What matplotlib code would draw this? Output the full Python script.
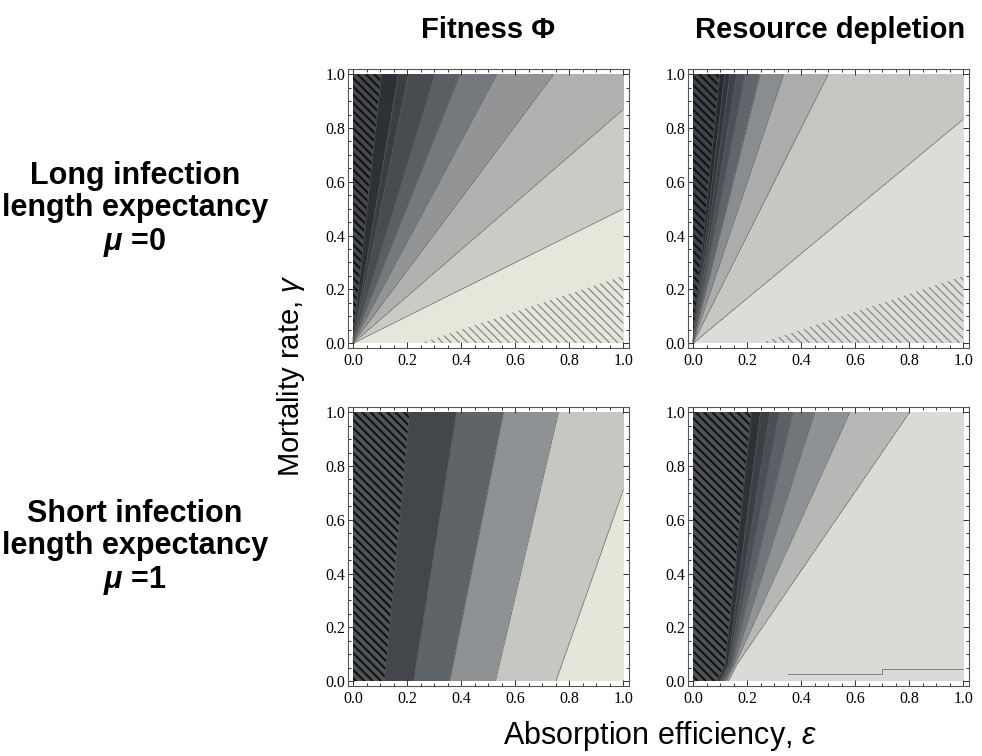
import numpy as np
import matplotlib.pyplot as plt
from matplotlib.ticker import MultipleLocator, FormatStrFormatter

plt.rcParams['font.family'] = ['Liberation Sans', 'DejaVu Sans']
plt.rcParams['mathtext.fontset'] = 'custom'
plt.rcParams['mathtext.rm'] = 'Liberation Sans'
plt.rcParams['mathtext.it'] = 'Liberation Sans:italic'
plt.rcParams['mathtext.bfit'] = 'Liberation Sans:italic:bold'

# contour lines: epsilon where each line sits at the gamma knots
knots_lin = [0.0, 1.0]
knots_knee = [0.0, 0.06, 1.0]

fit_mu0 = [[0, 0.106], [0, 0.168], [0, 0.205], [0, 0.304], [0, 0.396],
           [0, 0.532], [0, 0.742], [0, 1.15], [0, 2.0]]
dep_mu0 = [[0, 0.10], [0, 0.118], [0, 0.137], [0, 0.162], [0, 0.193],
           [0, 0.248], [0, 0.335], [0, 0.50], [0, 1.20]]
fit_mu1 = [[0.118, 0.211], [0.225, 0.384], [0.358, 0.557], [0.527, 0.76],
           [0.75, 1.10]]
dep_mu1 = [[0.09, 0.12, 0.217], [0.10, 0.13, 0.25], [0.105, 0.135, 0.285],
           [0.11, 0.14, 0.32], [0.115, 0.145, 0.37], [0.12, 0.15, 0.45],
           [0.125, 0.155, 0.58], [0.13, 0.16, 0.80]]
# lower-right hatched zone of the mu=0 panels
hatch_mu0 = [[0.25, 3.25]]
# small stepped contour at the bottom of the last panel
step_eps = [0.35, 0.70, 0.70, 1.0]
step_gam = [0.025, 0.025, 0.045, 0.045]

fit_mu0_cols = ['#45484c', '#2d3034', '#3a3d42', '#484c51', '#5b5f64',
                '#75787c', '#939495', '#b1b2af', '#cbcbc6', '#e6e6da']
dep_mu0_cols = ['#3f4349', '#262a30', '#30353b', '#3d4248', '#4c5157',
                '#60656a', '#8a8d8f', '#abacab', '#c6c6c2', '#dedcd8']
fit_mu1_cols = ['#505357', '#43474c', '#5f6469', '#8e9294', '#c6c7c3',
                '#e5e6d9']
dep_mu1_cols = ['#4e5257', '#2e3237', '#3b4045', '#4a4f55', '#5b6066',
                '#72767a', '#8f9294', '#b7b8b5', '#dcdad6']

ticks = [0.0, 0.2, 0.4, 0.6, 0.8, 1.0]


def band_field(knots, bounds, n=401):
    eps = np.linspace(0, 1, n)
    gam = np.linspace(0, 1, n)
    E, G = np.meshgrid(eps, gam)
    F = np.zeros_like(E)
    for j, g in enumerate(gam):
        pos = np.array([np.interp(g, knots, b) for b in bounds])
        pos = pos + np.arange(len(pos)) * 1e-6
        xp = np.concatenate([[-1.0], pos, [10.0]])
        F[j] = np.interp(eps, xp, np.arange(len(xp)))
    return E, G, F


def panel(ax, knots, bounds, cols, light_hatch=False):
    E, G, F = band_field(knots, bounds)
    nb = len(bounds)
    ax.contourf(E, G, F, levels=np.arange(nb + 2), colors=cols)
    with plt.rc_context({'hatch.color': '#111111', 'hatch.linewidth': 1.5}):
        ax.contourf(E, G, F, levels=[0, 1], colors='none',
                    hatches=['\\\\\\\\'])
    ax.contour(E, G, F, levels=np.arange(1, nb + 1), colors='#5a5a5a',
               linewidths=0.6, alpha=0.8)
    if light_hatch:
        E2, G2, H = band_field(knots_lin, hatch_mu0)
        with plt.rc_context({'hatch.color': '#8a8a86', 'hatch.linewidth': 0.9}):
            ax.contourf(E2, G2, H, levels=[1, 2], colors='none',
                        hatches=['\\\\\\\\'])
    ax.set_xlim(-0.02, 1.02)
    ax.set_ylim(-0.02, 1.02)
    ax.xaxis.set_minor_locator(MultipleLocator(0.05))
    ax.yaxis.set_minor_locator(MultipleLocator(0.05))
    ax.set_xticks(ticks)
    ax.set_yticks(ticks)
    ax.xaxis.set_major_formatter(FormatStrFormatter('%.1f'))
    ax.yaxis.set_major_formatter(FormatStrFormatter('%.1f'))
    ax.tick_params(which='both', direction='in', top=True, right=True,
                   color='#333333', width=0.7)
    ax.tick_params(which='major', length=4)
    ax.tick_params(which='minor', length=2)
    ax.tick_params(axis='x', pad=3)
    ax.tick_params(axis='y', pad=1.5)
    for lab in ax.get_xticklabels() + ax.get_yticklabels():
        lab.set_fontfamily('Liberation Serif')
        lab.set_fontsize(11.5)
    for s in ax.spines.values():
        s.set_color('#555555')
        s.set_linewidth(0.8)


fig = plt.figure(figsize=(9.82, 7.56), dpi=100)
w, h = 0.2862, 0.3696
ax1 = fig.add_axes([0.354, 0.5392, w, h])
ax2 = fig.add_axes([0.7002, 0.5392, w, h])
ax3 = fig.add_axes([0.354, 0.0921, w, h])
ax4 = fig.add_axes([0.7002, 0.0921, w, h])

panel(ax1, knots_lin, fit_mu0, fit_mu0_cols, light_hatch=True)
panel(ax2, knots_lin, dep_mu0, dep_mu0_cols, light_hatch=True)
panel(ax3, knots_lin, fit_mu1, fit_mu1_cols)
panel(ax4, knots_knee, dep_mu1, dep_mu1_cols)
ax4.plot(step_eps, step_gam, color='#5a5a5a', lw=0.6, alpha=0.8)

fig.text(488 / 982, 1 - 30 / 756, 'Fitness \u03a6', ha='center', va='center',
         fontsize=21, fontweight='bold')
fig.text(830 / 982, 1 - 30 / 756, 'Resource depletion', ha='center',
         va='center', fontsize=21, fontweight='bold')

fig.text(135 / 982, 1 - 210 / 756,
         'Long infection\nlength expectancy\n$\\mathbfit{\\mu}$ =0',
         ha='center', va='center', fontsize=22, fontweight='bold',
         linespacing=1.1)
fig.text(135 / 982, 1 - 548 / 756,
         'Short infection\nlength expectancy\n$\\mathbfit{\\mu}$ =1',
         ha='center', va='center', fontsize=22, fontweight='bold',
         linespacing=1.1)

fig.text(291 / 982, 1 - 376 / 756, 'Mortality rate, $\\gamma$', rotation=90,
         ha='center', va='center', fontsize=21)
fig.text(660 / 982, 1 - 736 / 756, 'Absorption efficiency, $\\varepsilon$',
         ha='center', va='center', fontsize=22)

fig.savefig('out.png', dpi=100, facecolor='white')
